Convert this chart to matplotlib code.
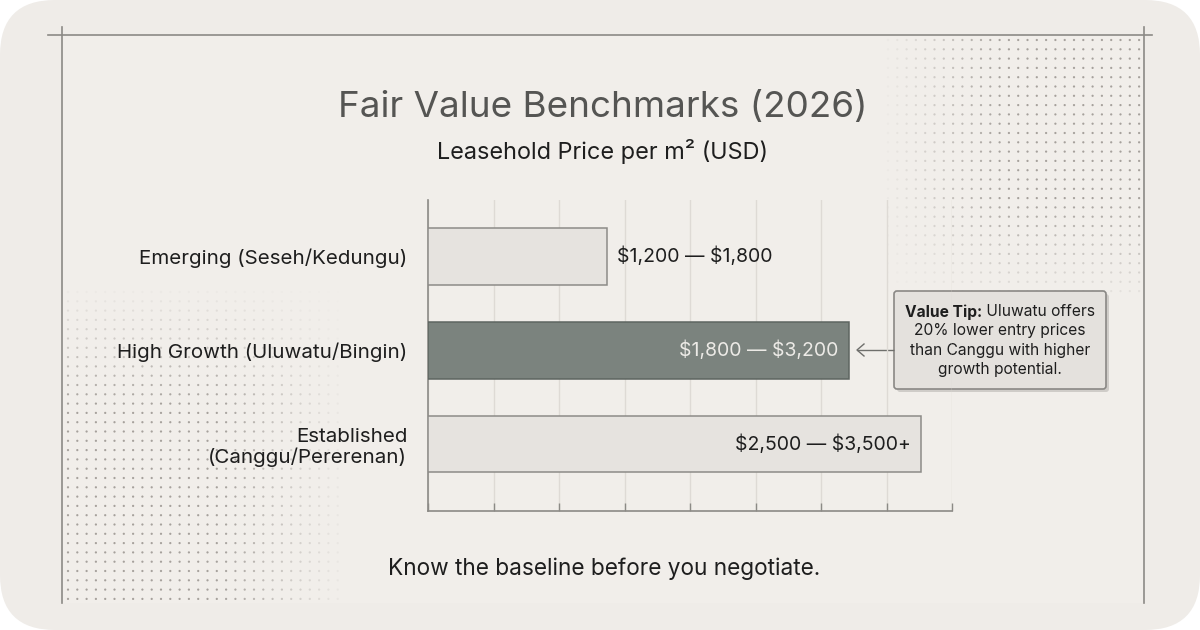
import numpy as np
import matplotlib
matplotlib.use("Agg")
import matplotlib.pyplot as plt
from matplotlib.patches import FancyBboxPatch, Rectangle

plt.rcParams['font.family'] = ['Inter', 'DejaVu Sans']
plt.rcParams['text.parse_math'] = False

# ---- data ----
categories = ["Emerging (Seseh/Kedungu)", "High Growth (Uluwatu/Bingin)", "Established\n(Canggu/Pererenan)"]
bar_lengths = [1370, 3210, 3760]          # drawn bar extent (USD scale of the axis)
range_labels = ["$1,200 — $1,800", "$1,800 — $3,200", "$2,500 — $3,500+"]
x_ticks = [0, 500, 1000, 1500, 2000, 2500, 3000, 3500, 4000]

title = "Fair Value Benchmarks (2026)"
subtitle = "Leasehold Price per m² (USD)"
footer = "Know the baseline before you negotiate."
tip_bold = "Value Tip:"
tip_rest = " Uluwatu offers"
tip_lines = ["20% lower entry prices", "than Canggu with higher", "growth potential."]

W, H = 1200, 630
fig = plt.figure(figsize=(12, 6.3), dpi=100, facecolor="white")

# background / decoration axes in pixel coordinates
bg = fig.add_axes([0, 0, 1, 1], zorder=0)
bg.set_xlim(0, W)
bg.set_ylim(H, 0)
bg.axis("off")
bg.add_patch(FancyBboxPatch((0, 0), W, H, boxstyle="round,pad=0,rounding_size=55",
                            fc="#efece8", ec="none"))
bg.add_patch(Rectangle((62, 35), 1082, 568, fc="#f1eeea", ec="none"))

# dot patterns
def dots(x0, x1, y0, y1, fade):
    xs = np.arange(x0, x1, 9.3)
    ys = np.arange(y0, y1, 9.3)
    X, Y = np.meshgrid(xs, ys)
    A = np.clip(fade(X, Y), 0, 1)
    cols = np.zeros((X.size, 4))
    cols[:, :3] = np.array([0.60, 0.58, 0.56])
    cols[:, 3] = A.ravel() * 0.85
    bg.scatter(X.ravel(), Y.ravel(), s=2.6, c=cols, linewidths=0)

dots(888, 1140, 40, 300,
     lambda X, Y: np.minimum((X - 880) / 120, 1) * np.minimum((310 - Y) / 110, 1))
dots(68, 345, 292, 602,
     lambda X, Y: np.minimum((350 - X) / 130, 1) * np.minimum((Y - 285) / 120, 1))

# frame lines
lc = "#8c8a86"
bg.plot([48, 1152], [35, 35], color=lc, lw=1.2)
bg.plot([62, 62], [27, 603], color=lc, lw=1.2)
bg.plot([1144, 1144], [27, 603], color=lc, lw=1.2)

# texts
bg.text(603, 107, title, ha="center", va="center", fontsize=26.5, color="#555553")
bg.text(603, 152, subtitle, ha="center", va="center", fontsize=16.9, color="#1e1e1e")
bg.text(604, 569, footer, ha="center", va="center", fontsize=16.3, color="#1e1e1e")

# annotation box with shadow
bx, by, bw, bh = 894, 291, 212, 98
bg.add_patch(FancyBboxPatch((bx + 3, by + 3), bw, bh, boxstyle="round,pad=0,rounding_size=3",
                            fc="#cfccc8", ec="none", zorder=2))
bg.add_patch(FancyBboxPatch((bx, by), bw, bh, boxstyle="round,pad=0,rounding_size=3",
                            fc="#e4e1dd", ec="#8a8885", lw=1.2, zorder=3))
tb = bg.text(0, 312, tip_bold, ha="left", va="center", fontsize=11.2, fontweight="bold",
             color="#1e1e1e", zorder=4)
tr = bg.text(0, 312, tip_rest, ha="left", va="center", fontsize=11.2, color="#1e1e1e", zorder=4)
fig.canvas.draw()
r = fig.canvas.get_renderer()
wb = tb.get_window_extent(r).width
wr = tr.get_window_extent(r).width
start = 1000 - (wb + wr) / 2
tb.set_x(start)
tr.set_x(start + wb)
for i, line in enumerate(tip_lines):
    bg.text(1000, 331 + i * 19.3, line, ha="center", va="center", fontsize=11.2,
            color="#1e1e1e", zorder=4)
ac = "#6f6f6c"
bg.plot([857, 894], [350, 350], color=ac, lw=1.0, zorder=4, solid_capstyle="butt")
bg.plot([864, 857, 864], [344, 350, 356], color=ac, lw=1.0, zorder=4)

# ---- main chart ----
ax = fig.add_axes([428 / W, (H - 511) / H, 524 / W, 311 / H], zorder=1)
ax.patch.set_alpha(0)
ypos = np.arange(len(categories))
face = ["#e6e3df", "#7b837e", "#e6e3df"]
edge = ["#8d8b88", "#5e6561", "#8d8b88"]
ax.barh(ypos, bar_lengths, height=0.6, color=face, edgecolor=edge, linewidth=1.1, zorder=3)
ax.set_xlim(0, 4000)
ax.set_ylim(2.71, -0.6)
ax.set_xticks(x_ticks)
ax.set_xticklabels([])
ax.tick_params(axis="x", direction="in", length=6, color="#8c8a86", width=1)
ax.grid(axis="x", color="#dedad5", lw=1, zorder=0)
ax.set_yticks(ypos)
ax.set_yticklabels(categories, fontsize=14.8, color="#1e1e1e", linespacing=1.1)
ax.tick_params(axis="y", length=0, pad=15)
for s in ["top", "right"]:
    ax.spines[s].set_visible(False)
for s in ["left", "bottom"]:
    ax.spines[s].set_color("#8c8a86")
    ax.spines[s].set_linewidth(1.2)

# value labels
ax.text(bar_lengths[0] + 75, 0, range_labels[0], ha="left", va="center", fontsize=14.0,
        color="#1e1e1e", zorder=4)
ax.text(bar_lengths[1] - 75, 1, range_labels[1], ha="right", va="center", fontsize=14.0,
        color="#eceae6", zorder=4)
ax.text(bar_lengths[2] - 75, 2, range_labels[2], ha="right", va="center", fontsize=14.0,
        color="#1e1e1e", zorder=4)

fig.savefig("out.png", dpi=100, facecolor="white")
